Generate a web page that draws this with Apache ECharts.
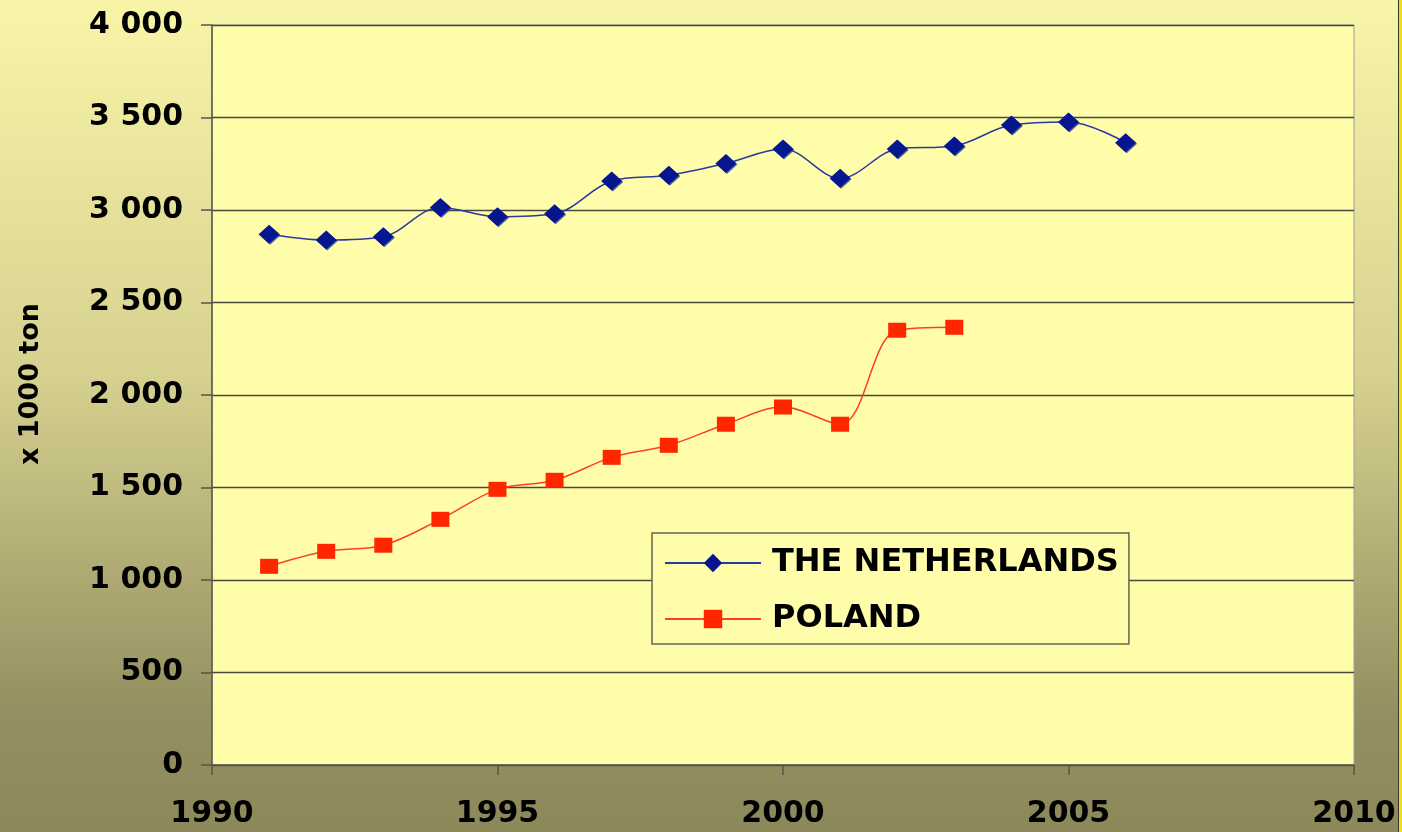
<!DOCTYPE html>
<html>
<head>
<meta charset="utf-8">
<script src="https://cdn.jsdelivr.net/npm/echarts@6/dist/echarts.min.js"></script>
<style>
  html, body { margin: 0; padding: 0; }
  #main { width: 1402px; height: 832px; }
</style>
</head>
<body>
<div id="main"></div>
<script>
// data
const years = [1991, 1992, 1993, 1994, 1995, 1996, 1997, 1998, 1999, 2000, 2001, 2002, 2003, 2004, 2005, 2006];
const netherlands = [2869, 2838, 2856, 3014, 2964, 2980, 3157, 3188, 3252, 3330, 3171, 3330, 3346, 3459, 3476, 3364];
const poland = [1074, 1155, 1188, 1328, 1490, 1539, 1663, 1728, 1842, 1935, 1842, 2350, 2366];
const seriesNames = ['THE NETHERLANDS', 'POLAND'];
const yTicks = { min: 0, max: 4000, step: 500 };
const xTicks = { min: 1990, max: 2010, step: 5 };

const font = 'DejaVu Sans';

function pairs(xs, ys) {
    return ys.map(function (v, i) { return [xs[i], v]; });
}

const chart = echarts.init(document.getElementById('main'));

const option = {
    animation: false,
    backgroundColor: {
        type: 'linear', x: 0, y: 0, x2: 0, y2: 1,
        colorStops: [
            { offset: 0, color: '#F8F5A8' },
            { offset: 0.45, color: '#D6D18F' },
            { offset: 0.85, color: '#959061' },
            { offset: 1, color: '#8C885A' }
        ]
    },
    grid: {
        left: 212, right: 48, top: 25, bottom: 67,
        show: true,
        backgroundColor: '#FFFCAA',
        borderColor: '#A0A0A0',
        borderWidth: 1
    },
    graphic: [
        { type: 'rect', shape: { x: 1398, y: 0, width: 4, height: 832 }, style: { fill: '#EED82A' }, silent: true },
        { type: 'line', shape: { x1: 1398.5, y1: 0, x2: 1398.5, y2: 832 }, style: { stroke: '#3A3820', lineWidth: 1 }, silent: true }
    ],
    legend: {
        orient: 'vertical',
        left: 652,
        top: 533,
        padding: [14, 10, 9, 12],
        itemWidth: 96,
        itemHeight: 23,
        itemGap: 24,
        backgroundColor: '#FFFCAA',
        borderColor: '#666650',
        borderWidth: 1.5,
        borderRadius: 0,
        textStyle: {
            fontFamily: font,
            fontWeight: 'bold',
            fontSize: 32,
            color: '#000',
            padding: [0, 0, 0, 6]
        },
        data: seriesNames
    },
    xAxis: {
        type: 'value',
        min: xTicks.min,
        max: xTicks.max,
        interval: xTicks.step,
        axisLine: { show: true, onZero: false, lineStyle: { color: '#555548', width: 1.5 } },
        axisTick: { show: true, inside: false, length: 10, lineStyle: { color: '#555548', width: 1.5 } },
        splitLine: { show: false },
        axisLabel: {
            margin: 34,
            fontFamily: font,
            fontWeight: 'bold',
            fontSize: 30,
            color: '#000',
            formatter: function (v) { return String(v); }
        }
    },
    yAxis: {
        type: 'value',
        min: yTicks.min,
        max: yTicks.max,
        interval: yTicks.step,
        name: 'x 1000 ton',
        nameLocation: 'middle',
        nameRotate: 90,
        nameGap: 168,
        nameTextStyle: {
            fontFamily: font,
            fontWeight: 'bold',
            fontSize: 27,
            color: '#000',
            padding: [0, 0, 0, 22]
        },
        axisLine: { show: true, lineStyle: { color: '#555548', width: 1.5 } },
        axisTick: { show: true, inside: false, length: 11, lineStyle: { color: '#555548', width: 1.5 } },
        splitLine: { show: true, lineStyle: { color: '#4A4A40', width: 1.3 } },
        axisLabel: {
            margin: 29,
            fontFamily: font,
            fontWeight: 'bold',
            fontSize: 30,
            color: '#000',
            formatter: function (v) {
                return String(v).replace(/\B(?=(\d{3})+(?!\d))/g, ' ');
            }
        }
    },
    series: [
        {
            name: seriesNames[0],
            type: 'line',
            smooth: 0.35,
            symbol: 'diamond',
            symbolSize: [21, 19],
            data: pairs(years, netherlands),
            lineStyle: { color: '#2A3A9E', width: 1.5 },
            itemStyle: { color: '#06168F', shadowColor: 'rgba(40,60,160,0.8)', shadowOffsetX: 1, shadowOffsetY: 1 },
            z: 3
        },
        {
            name: seriesNames[1],
            type: 'line',
            smooth: 0.35,
            symbol: 'rect',
            symbolSize: [18, 15],
            data: pairs(years, poland),
            lineStyle: { color: '#FF4020', width: 1.5 },
            itemStyle: { color: '#FF2600' },
            z: 3
        }
    ]
};

chart.setOption(option);
</script>
</body>
</html>
